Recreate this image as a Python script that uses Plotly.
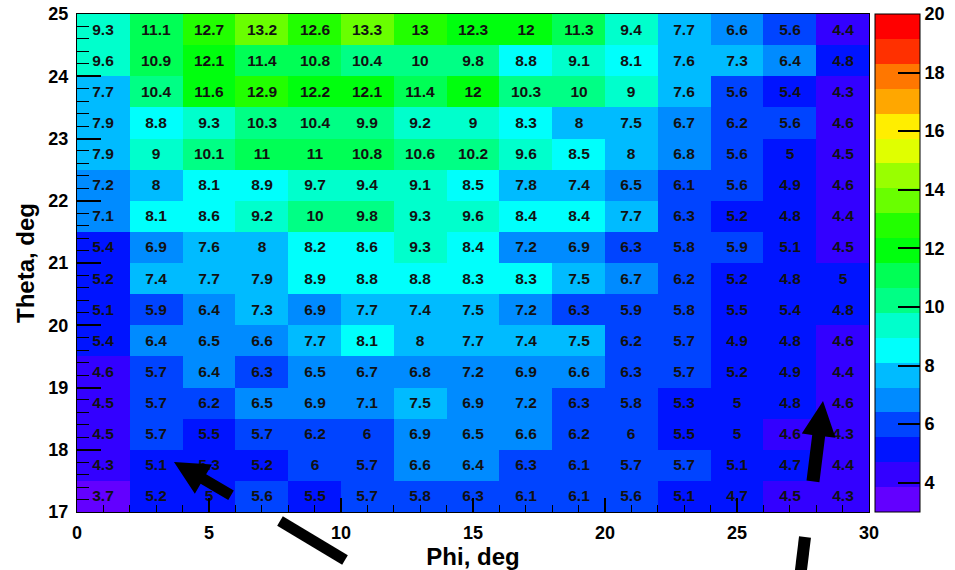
import colorsys
import math
import plotly.graph_objects as go

# Bin edges of the 2D histogram
phi_edges = list(range(0, 31, 2))                 # deg
theta_edges = [17 + 0.5 * i for i in range(17)]   # deg

# Cell contents, one list per theta row, from the top row (24.75) down to 17.25
row_values = [
    [9.3, 11.1, 12.7, 13.2, 12.6, 13.3, 13, 12.3, 12, 11.3, 9.4, 7.7, 6.6, 5.6, 4.4],
    [9.6, 10.9, 12.1, 11.4, 10.8, 10.4, 10, 9.8, 8.8, 9.1, 8.1, 7.6, 7.3, 6.4, 4.8],
    [7.7, 10.4, 11.6, 12.9, 12.2, 12.1, 11.4, 12, 10.3, 10, 9, 7.6, 5.6, 5.4, 4.3],
    [7.9, 8.8, 9.3, 10.3, 10.4, 9.9, 9.2, 9, 8.3, 8, 7.5, 6.7, 6.2, 5.6, 4.6],
    [7.9, 9, 10.1, 11, 11, 10.8, 10.6, 10.2, 9.6, 8.5, 8, 6.8, 5.6, 5, 4.5],
    [7.2, 8, 8.1, 8.9, 9.7, 9.4, 9.1, 8.5, 7.8, 7.4, 6.5, 6.1, 5.6, 4.9, 4.6],
    [7.1, 8.1, 8.6, 9.2, 10, 9.8, 9.3, 9.6, 8.4, 8.4, 7.7, 6.3, 5.2, 4.8, 4.4],
    [5.4, 6.9, 7.6, 8, 8.2, 8.6, 9.3, 8.4, 7.2, 6.9, 6.3, 5.8, 5.9, 5.1, 4.5],
    [5.2, 7.4, 7.7, 7.9, 8.9, 8.8, 8.8, 8.3, 8.3, 7.5, 6.7, 6.2, 5.2, 4.8, 5],
    [5.1, 5.9, 6.4, 7.3, 6.9, 7.7, 7.4, 7.5, 7.2, 6.3, 5.9, 5.8, 5.5, 5.4, 4.8],
    [5.4, 6.4, 6.5, 6.6, 7.7, 8.1, 8, 7.7, 7.4, 7.5, 6.2, 5.7, 4.9, 4.8, 4.6],
    [4.6, 5.7, 6.4, 6.3, 6.5, 6.7, 6.8, 7.2, 6.9, 6.6, 6.3, 5.7, 5.2, 4.9, 4.4],
    [4.5, 5.7, 6.2, 6.5, 6.9, 7.1, 7.5, 6.9, 7.2, 6.3, 5.8, 5.3, 5, 4.8, 4.6],
    [4.5, 5.7, 5.5, 5.7, 6.2, 6, 6.9, 6.5, 6.6, 6.2, 6, 5.5, 5, 4.6, 4.3],
    [4.3, 5.1, 5.3, 5.2, 6, 5.7, 6.6, 6.4, 6.3, 6.1, 5.7, 5.7, 5.1, 4.7, 4.4],
    [3.7, 5.2, 5, 5.6, 5.5, 5.7, 5.8, 6.3, 6.1, 6.1, 5.6, 5.1, 4.7, 4.5, 4.3],
]

# Colour axis settings
z_min, z_max, n_levels = 3.0, 20.0, 20
cbar_ticks = [4, 6, 8, 10, 12, 14, 16, 18, 20]
x_ticks = [0, 5, 10, 15, 20, 25, 30]

phi_centers = [(a + b) / 2 for a, b in zip(phi_edges[:-1], phi_edges[1:])]
theta_centers = [(a + b) / 2 for a, b in zip(theta_edges[:-1], theta_edges[1:])]
z = row_values[::-1]
text = [[f"{v:g}" for v in row] for row in z]


# Rainbow palette (hue 280 -> 0, HLS with L=0.5, S=1), sampled into 20 contour levels
def level_color(k):
    ci = int((k + 0.99) * 50 / n_levels)
    hue = 280 - (ci + 1) * 280 / 50
    r, g, b = colorsys.hls_to_rgb(hue / 360, 0.5, 1.0)
    return f"rgb({round(r * 255)},{round(g * 255)},{round(b * 255)})"


eps = 1e-6
colorscale = []
for k in range(n_levels):
    lo = 0.0 if k == 0 else k / n_levels - eps
    hi = 1.0 if k == n_levels - 1 else (k + 1) / n_levels - eps
    c = level_color(k)
    colorscale += [[lo, c], [hi, c]]

FONT = "Arial, Liberation Sans, sans-serif"

fig = go.Figure(
    go.Heatmap(
        x=phi_centers,
        y=theta_centers,
        z=z,
        text=text,
        texttemplate="%{text}",
        textfont=dict(family=FONT, size=15.5, color="#111111", weight="bold"),
        colorscale=colorscale,
        zmin=z_min,
        zmax=z_max,
        colorbar=dict(
            tickvals=cbar_ticks,
            ticks="inside",
            ticklen=22,
            tickwidth=1.5,
            tickcolor="black",
            tickfont=dict(family=FONT, size=18, color="black", weight="bold"),
            outlinewidth=1,
            outlinecolor="black",
            thickness=45,
            thicknessmode="pixels",
            len=1,
            lenmode="fraction",
            x=1.0076,
            xanchor="left",
            xpad=0,
            y=0.5,
            yanchor="middle",
            ypad=0,
        ),
        hovertemplate="Phi %{x}, Theta %{y}: %{z}<extra></extra>",
    )
)

# Plot-area geometry in pixels (used to place the hand-drawn arrows)
PLOT_L, PLOT_T, PLOT_W, PLOT_H = 77, 14, 792, 498
W, H = 955, 570


def to_paper(px, py):
    return ((px - PLOT_L) / PLOT_W, (PLOT_T + PLOT_H - py) / PLOT_H)


def polygon_path(points):
    pts = [to_paper(x, y) for x, y in points]
    return "M " + " L ".join(f"{x:.5f},{y:.5f}" for x, y in pts) + " Z"


def block_arrow(tip, toward, head_len, head_half, shaft_half, length):
    dx, dy = toward[0] - tip[0], toward[1] - tip[1]
    n = math.hypot(dx, dy)
    ux, uy = dx / n, dy / n
    px, py = -uy, ux
    tx, ty = tip
    def p(a, s):
        return (tx + ux * a + px * s, ty + uy * a + py * s)
    return [p(0, 0), p(head_len, head_half), p(head_len, shaft_half),
            p(length, shaft_half), p(length, -shaft_half), p(head_len, -shaft_half),
            p(head_len, -head_half)]


def thick_segment(a, b, half):
    dx, dy = b[0] - a[0], b[1] - a[1]
    n = math.hypot(dx, dy)
    px, py = -dy / n * half, dx / n * half
    return [(a[0] + px, a[1] + py), (b[0] + px, b[1] + py),
            (b[0] - px, b[1] - py), (a[0] - px, a[1] - py)]


arrow_polys = [
    block_arrow((174, 462), (229, 494), 34, 17, 5.5, 66),
    thick_segment((280, 521), (345, 560), 5.5),
    block_arrow((823, 401), (813, 481), 35, 17, 6.5, 81),
    thick_segment((805, 537), (800, 578), 6),
]
shapes = [
    dict(type="path", path=polygon_path(poly), xref="paper", yref="paper",
         fillcolor="black", line=dict(width=0), layer="above")
    for poly in arrow_polys
]

axis_common = dict(
    ticks="inside",
    tickcolor="black",
    tickwidth=1.5,
    showline=True,
    linecolor="black",
    linewidth=1,
    mirror=True,
    showgrid=False,
    zeroline=False,
    tickfont=dict(family=FONT, size=18, color="black", weight="bold"),
)

fig.update_layout(
    width=W,
    height=H,
    margin=dict(l=PLOT_L, r=W - PLOT_L - PLOT_W, t=PLOT_T, b=H - PLOT_T - PLOT_H,
                autoexpand=False),
    paper_bgcolor="white",
    plot_bgcolor="white",
    font=dict(family=FONT, color="black"),
    shapes=shapes,
    xaxis=dict(
        range=[phi_edges[0], phi_edges[-1]],
        tickvals=x_ticks,
        ticklen=14,
        minor=dict(dtick=1, ticks="inside", ticklen=7, tickcolor="black", tickwidth=1),
        ticklabelstandoff=4,
        title=dict(text="Phi, deg", font=dict(family=FONT, size=24, weight="bold"), standoff=4),
        **axis_common,
    ),
    yaxis=dict(
        range=[theta_edges[0], theta_edges[-1]],
        dtick=1,
        ticklen=24,
        minor=dict(dtick=0.2, ticks="inside", ticklen=12, tickcolor="black", tickwidth=1),
        ticklabelstandoff=4,
        title=dict(text="Theta, deg", font=dict(family=FONT, size=24, weight="bold"), standoff=6),
        **axis_common,
    ),
)

fig.write_html("out.html")
